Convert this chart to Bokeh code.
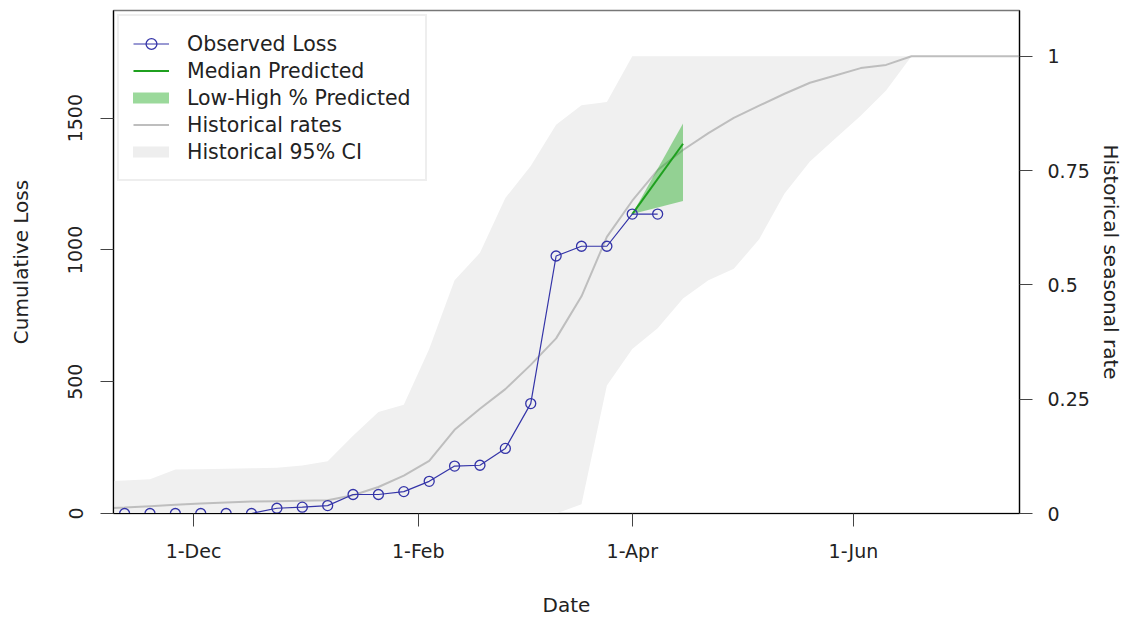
from datetime import datetime
import pandas as pd
from bokeh.plotting import figure
from bokeh.models import (Range1d, LinearAxis, FixedTicker, ColumnDataSource,
                          Legend, LegendItem)
from bokeh.embed import file_html
from bokeh.resources import INLINE

# ---------------- data ----------------
obs_dates = ["2018-11-12", "2018-11-19", "2018-11-26", "2018-12-03", "2018-12-10",
             "2018-12-17", "2018-12-24", "2018-12-31", "2019-01-07", "2019-01-14",
             "2019-01-21", "2019-01-28", "2019-02-04", "2019-02-11", "2019-02-18",
             "2019-02-25", "2019-03-04", "2019-03-11", "2019-03-18", "2019-03-25",
             "2019-04-01", "2019-04-08"]
obs_loss = [0, 0, 0, 0, 0, 0, 20, 24, 30, 72, 72, 83, 122, 180, 183, 247, 417,
            977, 1014, 1014, 1136, 1136]

pred_dates = ["2019-04-01", "2019-04-15"]
pred_median = [1136, 1403]
pred_low = [1136, 1186]
pred_high = [1136, 1480]

hist_dates = ["2018-11-05", "2018-11-12", "2018-11-19", "2018-11-26", "2018-12-03",
              "2018-12-10", "2018-12-17", "2018-12-24", "2018-12-31", "2019-01-07",
              "2019-01-14", "2019-01-21", "2019-01-28", "2019-02-04", "2019-02-11",
              "2019-02-18", "2019-02-25", "2019-03-04", "2019-03-11", "2019-03-18",
              "2019-03-25", "2019-04-01", "2019-04-08", "2019-04-15", "2019-04-22",
              "2019-04-29", "2019-05-06", "2019-05-13", "2019-05-20", "2019-05-27",
              "2019-06-03", "2019-06-10", "2019-06-17", "2019-06-24", "2019-07-01",
              "2019-07-08", "2019-07-15", "2019-07-22"]
hist_rate = [0.011, 0.013, 0.016, 0.019, 0.022, 0.024, 0.026, 0.027, 0.028, 0.029,
             0.040, 0.058, 0.083, 0.115, 0.183, 0.229, 0.272, 0.325, 0.383, 0.475,
             0.605, 0.684, 0.751, 0.795, 0.832, 0.865, 0.892, 0.918, 0.942, 0.958,
             0.974, 0.981, 1.0, 1.0, 1.0, 1.0, 1.0, 1.0]
hist_low = [0, 0, 0, 0, 0, 0, 0, 0, 0, 0,
            0, 0, 0, 0, 0, 0, 0, 0, 0, 0.02,
            0.28, 0.36, 0.405, 0.47, 0.51, 0.535, 0.60, 0.70, 0.77, 0.82,
            0.87, 0.925, 1.0, 1.0, 1.0, 1.0, 1.0, 1.0]
hist_high = [0.070, 0.072, 0.075, 0.096, 0.097, 0.098, 0.099, 0.100, 0.105, 0.114,
             0.170, 0.222, 0.238, 0.36, 0.51, 0.57, 0.69, 0.76, 0.85, 0.893,
             0.90, 1.0, 1.0, 1.0, 1.0, 1.0, 1.0, 1.0, 1.0, 1.0,
             1.0, 1.0, 1.0, 1.0, 1.0, 1.0, 1.0, 1.0]

x_tick_dates = ["2018-12-01", "2019-02-01", "2019-04-01", "2019-06-01"]
x_tick_labels = ["1-Dec", "1-Feb", "1-Apr", "1-Jun"]
loss_ticks = [0, 500, 1000, 1500]
rate_ticks = [0, 0.25, 0.5, 0.75, 1]
rate_tick_labels = ["0", "0.25", "0.5", "0.75", "1"]

# ---------------- styling ----------------
FONT = "DejaVu Sans"
OBS_COLOR = "#3434A8"
MED_COLOR = "#1FA01F"
PRED_FILL = "#22AA22"
HIST_LINE = "#BEBEBE"
HIST_BAND = "#F0F0F0"


def ms(s):
    return pd.Timestamp(s).value / 1e6


obs_src = ColumnDataSource(dict(x=pd.to_datetime(obs_dates), y=obs_loss))
pred_src = ColumnDataSource(dict(x=pd.to_datetime(pred_dates), med=pred_median,
                                 lo=pred_low, hi=pred_high))
hist_src = ColumnDataSource(dict(x=pd.to_datetime(hist_dates), r=hist_rate,
                                 lo=hist_low, hi=hist_high))

p = figure(width=1127, height=619, x_axis_type="datetime",
           x_range=Range1d(datetime(2018, 11, 8, 22, 30), datetime(2019, 7, 16, 19)),
           y_range=Range1d(0, 1908.5),
           output_backend="svg", toolbar_location=None,
           min_border_left=113, min_border_right=108,
           min_border_top=10, min_border_bottom=105)
p.extra_y_ranges = {"rate": Range1d(0, 1.1)}
p.xgrid.visible = False
p.ygrid.visible = False
p.outline_line_color = "#777777"
p.outline_line_width = 1.5
p.background_fill_color = "white"
p.border_fill_color = "white"

# historical band + line (right axis scale)
p.varea(x="x", y1="lo", y2="hi", source=hist_src, fill_color=HIST_BAND,
        y_range_name="rate")
hist_line = p.line(x="x", y="r", source=hist_src, line_color=HIST_LINE,
                   line_width=2, y_range_name="rate")

# prediction
p.varea(x="x", y1="lo", y2="hi", source=pred_src, fill_color=PRED_FILL,
        fill_alpha=0.45)
med_line = p.line(x="x", y="med", source=pred_src, line_color=MED_COLOR,
                  line_width=2)

# observed
obs_line = p.line(x="x", y="y", source=obs_src, line_color=OBS_COLOR,
                  line_width=1.2)
obs_pts = p.scatter(x="x", y="y", source=obs_src, marker="circle", size=10,
                    fill_color=None, line_color=OBS_COLOR, line_width=1.3)

# legend-only key glyphs (no visible data)
nan = float("nan")
key_x = pd.to_datetime([pred_dates[0], pred_dates[0]])
band_key = p.line(x=key_x, y=[nan, nan], line_color="#9BD99B", line_width=11,
                  line_cap="round")
ci_key = p.line(x=key_x, y=[nan, nan], line_color="#EEEEEE", line_width=11,
                line_cap="round")

# axes
xa = p.xaxis[0]
xa.ticker = FixedTicker(ticks=[ms(d) for d in x_tick_dates])
xa.major_label_overrides = {ms(d): lab for d, lab in zip(x_tick_dates, x_tick_labels)}
xa.axis_label = "Date"

ya = p.yaxis[0]
ya.ticker = FixedTicker(ticks=loss_ticks)
ya.major_label_orientation = "vertical"
ya.axis_label = "Cumulative Loss"

ra = LinearAxis(y_range_name="rate", ticker=FixedTicker(ticks=rate_ticks),
                major_label_overrides={t: l for t, l in zip(rate_ticks, rate_tick_labels)},
                axis_label="Historical seasonal rate")
p.add_layout(ra, "right")

for ax in (xa, ya, ra):
    ax.axis_line_color = "black"
    ax.axis_line_width = 1.2
    ax.major_tick_line_color = "#444444"
    ax.major_tick_in = 0
    ax.major_tick_out = 13
    ax.minor_tick_line_color = None
    ax.major_label_text_font = FONT
    ax.major_label_text_font_size = "19px"
    ax.major_label_text_color = "#222222"
    ax.axis_label_text_font = FONT
    ax.axis_label_text_font_size = "20px"
    ax.axis_label_text_font_style = "normal"
    ax.axis_label_text_color = "#222222"

xa.major_label_standoff = 13
xa.axis_label_standoff = 28
ya.major_label_standoff = 18
ya.axis_label_standoff = 33
ra.major_label_standoff = 15
ra.axis_label_standoff = 6

legend = Legend(items=[
    LegendItem(label="Observed Loss", renderers=[obs_line, obs_pts]),
    LegendItem(label="Median Predicted", renderers=[med_line]),
    LegendItem(label="Low-High % Predicted", renderers=[band_key]),
    LegendItem(label="Historical rates", renderers=[hist_line]),
    LegendItem(label="Historical 95% CI", renderers=[ci_key]),
], location="top_left")
legend.margin = 4
legend.padding = 14
legend.spacing = 0
legend.glyph_width = 36
legend.glyph_height = 27
legend.label_height = 27
legend.label_standoff = 18
legend.label_text_font = FONT
legend.label_text_font_size = "20.5px"
legend.label_text_color = "#222222"
legend.border_line_color = "#DDDDDD"
legend.border_line_width = 2
legend.background_fill_color = "white"
legend.background_fill_alpha = 1
p.add_layout(legend)

open("out.html", "w").write(file_html(p, INLINE))
